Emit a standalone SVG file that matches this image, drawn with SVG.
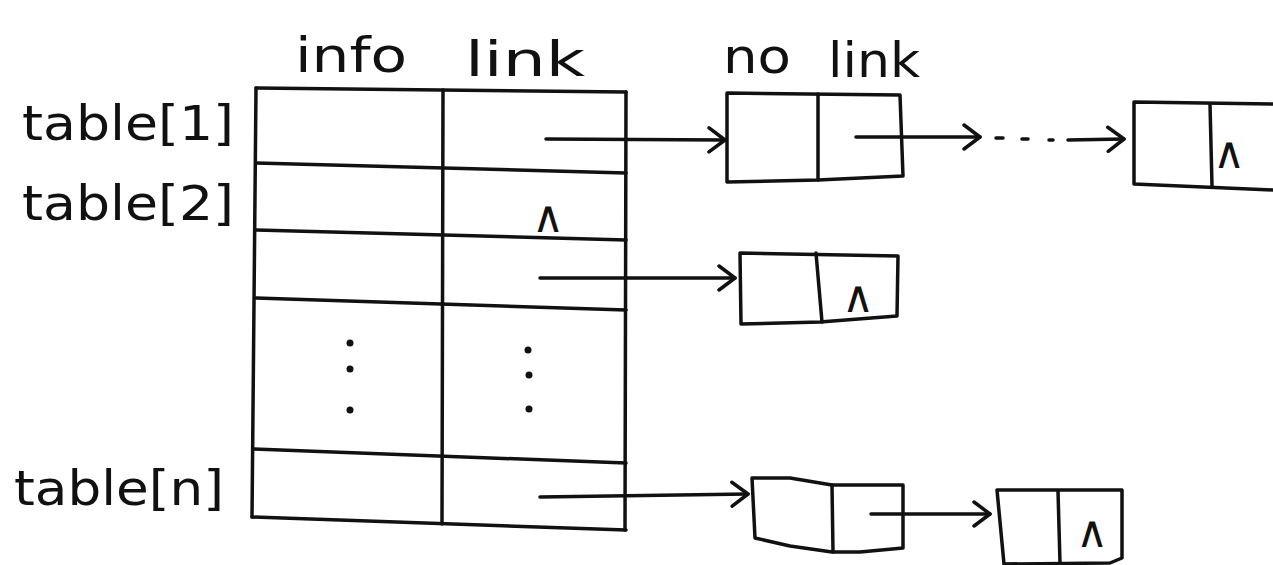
<svg xmlns="http://www.w3.org/2000/svg" width="1273" height="565" viewBox="0 0 1273 565">
<style>
.ln{stroke:#111;stroke-width:3.5;fill:none;stroke-linecap:round;stroke-linejoin:round}
.tx{font-family:"DejaVu Sans","Liberation Sans",sans-serif;font-size:48px;fill:#111}
.sm{font-family:"DejaVu Sans","Liberation Sans",sans-serif;font-size:44px;fill:#111}
.dot{fill:#111}
</style>
<defs>
<marker id="ah" markerWidth="22" markerHeight="28" refX="20" refY="14" orient="auto" markerUnits="userSpaceOnUse">
<path d="M4,2 L20,14 L4,26" fill="none" stroke="#111" stroke-width="3.5" stroke-linecap="round" stroke-linejoin="round"/>
</marker>
</defs>
<rect width="1273" height="565" fill="#fff"/>
<g id="labels">
<text class="tx" x="295" y="72" textLength="112" lengthAdjust="spacingAndGlyphs">info</text>
<text class="tx" x="465" y="76" textLength="120" lengthAdjust="spacingAndGlyphs">link</text>
<text class="tx" x="22" y="140" textLength="212" lengthAdjust="spacingAndGlyphs">table[1]</text>
<text class="tx" x="22" y="220" textLength="212" lengthAdjust="spacingAndGlyphs">table[2]</text>
<text class="tx" x="14" y="505" textLength="210" lengthAdjust="spacingAndGlyphs">table[n]</text>
<text class="tx" x="723" y="73" textLength="68" lengthAdjust="spacingAndGlyphs">no</text>
<text class="tx" x="828" y="77" textLength="92" lengthAdjust="spacingAndGlyphs">link</text>
</g>
<g id="table">
<path class="ln" d="M256,88 L626,92"/>
<path class="ln" d="M256,163 L626,173"/>
<path class="ln" d="M256,230 L626,240"/>
<path class="ln" d="M256,298 L626,310"/>
<path class="ln" d="M254,449 L626,463"/>
<path class="ln" d="M252,517 L626,530"/>
<path class="ln" d="M256,88 L252,517"/>
<path class="ln" d="M443,90 L442,524"/>
<path class="ln" d="M626,92 L625,530"/>
<text class="sm" x="532" y="232">∧</text>
<circle class="dot" cx="350" cy="343" r="3.5"/>
<circle class="dot" cx="350" cy="369" r="3.5"/>
<circle class="dot" cx="350" cy="410" r="3.5"/>
<circle class="dot" cx="528" cy="350" r="3.5"/>
<circle class="dot" cx="529" cy="375" r="3.5"/>
<circle class="dot" cx="529" cy="409" r="3.5"/>
</g>
<g id="node1">
<path class="ln" d="M727,93 L900,95 L903,176 L818,180 L727,182 Z"/>
<path class="ln" d="M818,94 L818,180"/>
</g>
<g id="node-last">
<path class="ln" d="M1273,104 L1134,102 L1134,184 L1273,190"/>
<path class="ln" d="M1210,104 L1212,186"/>
<text class="sm" x="1213" y="168">∧</text>
</g>
<g id="node2">
<path class="ln" d="M740,253 L898,256 L897,316 L820,322 L741,324 Z"/>
<path class="ln" d="M816,253 L822,322"/>
<text class="sm" x="842" y="312">∧</text>
</g>
<g id="node3">
<path class="ln" d="M752,478 L790,478 L832,485 L903,485 L903,548 L860,552 L832,552 L790,546 L755,538 Z"/>
<path class="ln" d="M832,485 L833,552"/>
</g>
<g id="node4">
<path class="ln" d="M997,490 L1122,490 L1122,558 L1110,563 L1004,564 L997,490 Z"/>
<path class="ln" d="M1058,491 L1060,563"/>
<text class="sm" x="1076" y="547">∧</text>
</g>
<g id="connectors">
<path class="ln" d="M546,139 L725,140" marker-end="url(#ah)"/>
<path class="ln" d="M540,278 L735,278" marker-end="url(#ah)"/>
<path class="ln" d="M540,497 L748,494" marker-end="url(#ah)"/>
<path class="ln" d="M856,137 L980,137" marker-end="url(#ah)"/>
<path class="ln" d="M996,138 L1003,138"/>
<path class="ln" d="M1022,139 L1028,139"/>
<path class="ln" d="M1049,140 L1053,140"/>
<path class="ln" d="M1068,140 L1124,139" marker-end="url(#ah)"/>
<path class="ln" d="M871,514 L990,514" marker-end="url(#ah)"/>
</g>
</svg>
